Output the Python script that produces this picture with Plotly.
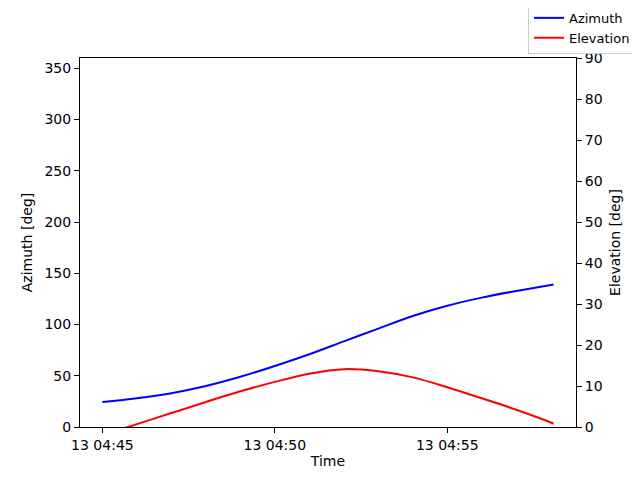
import pandas as pd
import plotly.graph_objects as go

# pass samples, one per minute from 13 04:45 plus the last fix
times = ["2024-05-13 04:45:00", "2024-05-13 04:46:00", "2024-05-13 04:47:00",
         "2024-05-13 04:48:00", "2024-05-13 04:49:00", "2024-05-13 04:50:00",
         "2024-05-13 04:51:00", "2024-05-13 04:52:00", "2024-05-13 04:53:00",
         "2024-05-13 04:54:00", "2024-05-13 04:55:00", "2024-05-13 04:56:00",
         "2024-05-13 04:57:00", "2024-05-13 04:58:00", "2024-05-13 04:58:05"]
azimuth = [24.4, 28.0, 33.0, 40.0, 49.0, 59.5, 71.0, 83.5, 96.0,
           108.3, 118.3, 126.2, 132.7, 138.5, 139.0]
elevation = [-2.0, 0.7, 3.4, 6.1, 8.7, 11.0, 13.0, 14.1, 13.6,
             12.1, 9.7, 7.0, 4.2, 1.1, 0.8]

x_ticks = ["2024-05-13 04:45:00", "2024-05-13 04:50:00", "2024-05-13 04:55:00"]
x_ticktext = ["13 04:45", "13 04:50", "13 04:55"]
x_range = ["2024-05-13 04:44:21", "2024-05-13 04:58:44"]

t = pd.to_datetime(times)

fig = go.Figure()
fig.add_trace(go.Scatter(x=t, y=azimuth, mode="lines", name="Azimuth",
                         line=dict(color="blue", width=2, shape="spline", smoothing=1.0)))
fig.add_trace(go.Scatter(x=t, y=elevation, mode="lines", name="Elevation", yaxis="y2",
                         line=dict(color="red", width=2, shape="spline", smoothing=1.0)))

axis_common = dict(showline=True, linecolor="black", linewidth=1, ticks="outside",
                   ticklen=5, tickcolor="black", showgrid=False, zeroline=False,
                   tickfont=dict(size=14, color="black"))

# page body adds an 8px offset, so the figure is 8px smaller than the window
fig.update_layout(
    width=632, height=472,
    margin=dict(l=72, r=64, t=50, b=53, autoexpand=False),
    paper_bgcolor="white", plot_bgcolor="white",
    font=dict(family="DejaVu Sans", size=14, color="black"),
    xaxis=dict(axis_common, range=x_range, tickvals=pd.to_datetime(x_ticks),
               ticktext=x_ticktext, mirror=True,
               title=dict(text="Time", standoff=4, font=dict(size=14))),
    yaxis=dict(axis_common, range=[0, 360], tickvals=list(range(0, 351, 50)),
               title=dict(text="Azimuth [deg]", standoff=8, font=dict(size=14))),
    yaxis2=dict(axis_common, range=[0, 90], tickvals=list(range(0, 91, 10)),
                overlaying="y", side="right",
                title=dict(text="Elevation [deg]", standoff=8, font=dict(size=14))),
    legend=dict(x=1.121, y=1.152, xanchor="right", yanchor="top",
                bgcolor="white", bordercolor="#cccccc", borderwidth=1,
                font=dict(size=13), tracegroupgap=0),
    showlegend=True,
)

fig.write_html("out.html")
